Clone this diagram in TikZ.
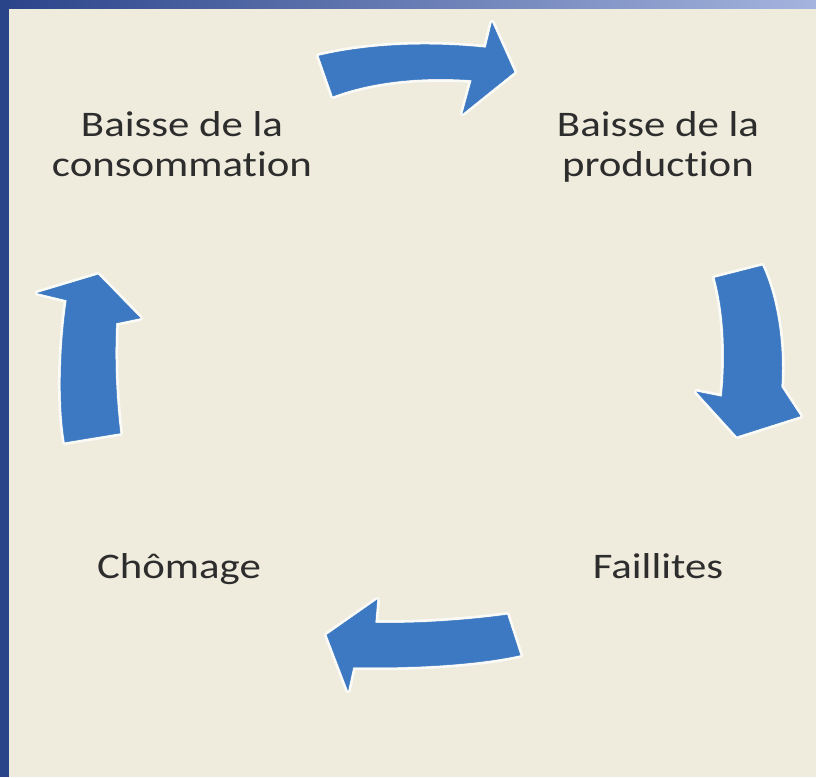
\documentclass[tikz,border=0pt]{standalone}
\usepackage{fontspec}
\setmainfont[FakeStretch=1.19,Ligatures={NoCommon}]{Carlito}
\definecolor{parchment}{RGB}{239,236,221}
\definecolor{arrowblue}{RGB}{61,121,194}
\definecolor{textgray}{RGB}{45,45,45}
\definecolor{edgedark}{RGB}{42,68,138}
\definecolor{edgelight}{RGB}{165,180,222}
\begin{document}
\begin{tikzpicture}[x=1pt,y=-1pt,
  halo/.style={draw=white, line width=6pt, line join=round, opacity=0.75},
  blockarrow/.style={fill=arrowblue, draw=arrowblue, line width=0.5pt, line join=miter},
  lbl/.style={text=textgray, font=\fontsize{36}{40}\selectfont, align=center, inner sep=0pt}]
\useasboundingbox (0,0) rectangle (816,777);
% background
\fill[parchment] (0,0) rectangle (816,777);
\shade[left color=edgedark, right color=edgelight] (0,0) rectangle (816,8);
\fill[edgedark] (0,0) rectangle (9,777);
% arrow shapes
\def\toparrow{(319,56) .. controls (370,44) and (430,42) .. (486,48) -- (492,23) -- (514,72) -- (463,113) -- (472,80) .. controls (420,76) and (370,82) .. (333,96) -- cycle}
\def\rightarrow{(715,278) -- (762,266) .. controls (778,300) and (784,350) .. (781,387) -- (800,416) -- (737,436) -- (697,392) -- (722,397) .. controls (726,360) and (725,315) .. (715,278) -- cycle}
\def\bottomarrow{(507,615) .. controls (470,620) and (420,624) .. (375,623) -- (377,600) -- (327,635) -- (348,690) -- (353,667) .. controls (400,668) and (470,666) .. (520,655) -- cycle}
\def\leftarrow{(65,442) -- (120,433) .. controls (116,400) and (114,360) .. (116,323) -- (140,318) -- (98,275) -- (38,293) -- (67,300) .. controls (61,340) and (58,400) .. (65,442) -- cycle}
\foreach \p in {\toparrow,\rightarrow,\bottomarrow,\leftarrow}{
  \draw[halo] \p;
  \draw[blockarrow] \p;
}
% labels (base anchor = baseline of the last line)
\node[lbl, anchor=base] (cons) at (182,176) {Baisse de la\\consommation};
\node[lbl, anchor=base] (prod) at (658,176) {Baisse de la\\production};
\node[lbl, anchor=base] (fail) at (658,578) {Faillites};
\node[lbl, anchor=base] (chom) at (179,578) {Chômage};
\end{tikzpicture}
\end{document}
